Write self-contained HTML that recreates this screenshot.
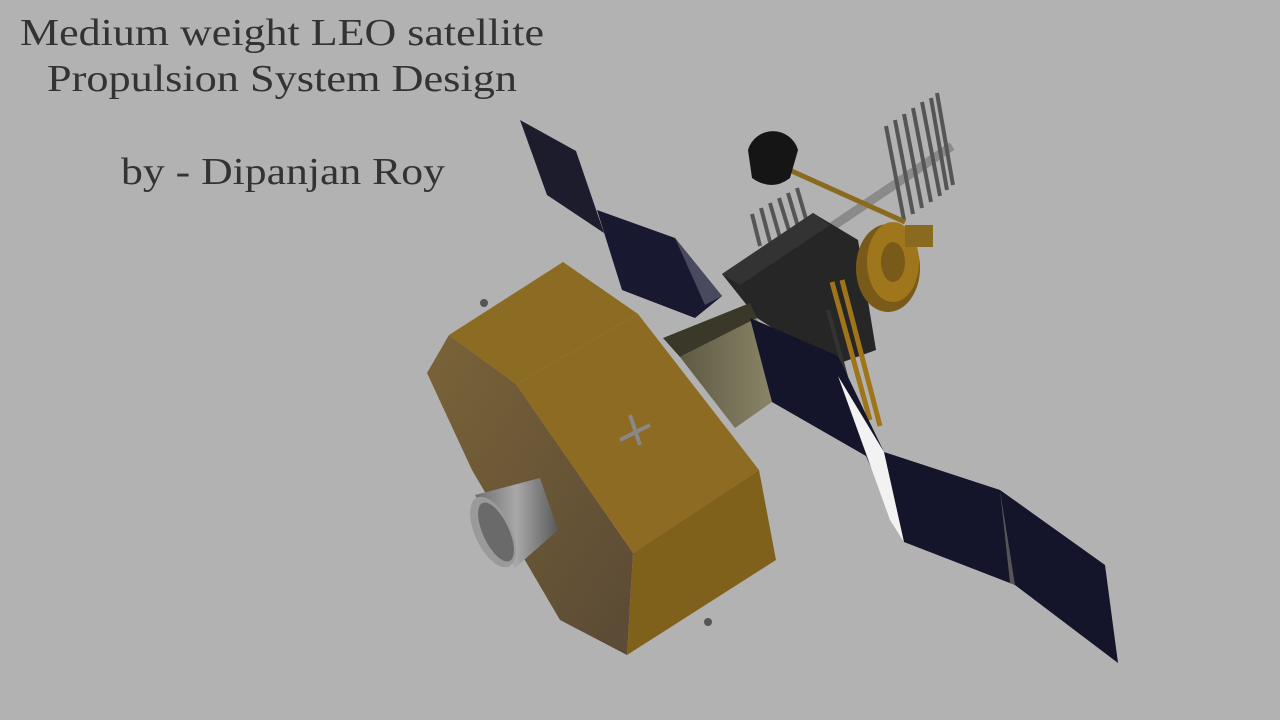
<!DOCTYPE html>
<html><head><meta charset="utf-8"><style>
html,body{margin:0;padding:0;background:#b2b2b2;}
svg{display:block}
text{font-family:"Liberation Serif",serif;fill:#333;}
</style></head><body>
<svg width="1280" height="720" viewBox="0 0 1280 720">
<defs>
<linearGradient id="back" x1="0" y1="0" x2="1" y2="1"><stop offset="0" stop-color="#7a6338"/><stop offset="1" stop-color="#5a4a35"/></linearGradient>
<linearGradient id="noz" x1="0" y1="0" x2="1" y2="0"><stop offset="0" stop-color="#6e6e6e"/><stop offset="0.5" stop-color="#a8a8a8"/><stop offset="1" stop-color="#5a5a5a"/></linearGradient>
<linearGradient id="conn" x1="0" y1="0" x2="1" y2="0"><stop offset="0" stop-color="#5e5a42"/><stop offset="1" stop-color="#8a8468"/></linearGradient>
</defs>
<rect width="1280" height="720" fill="#b2b2b2"/>
<text x="282" y="45" font-size="38" text-anchor="middle" textLength="524" lengthAdjust="spacingAndGlyphs">Medium weight LEO satellite</text>
<text x="282" y="91" font-size="38" text-anchor="middle" textLength="470" lengthAdjust="spacingAndGlyphs">Propulsion System Design</text>
<text x="283" y="184" font-size="38" text-anchor="middle" textLength="324" lengthAdjust="spacingAndGlyphs">by - Dipanjan Roy</text>

<g>
<polygon points="520,120 576,151 604,233 547,195" fill="#1c1c2c"/>
<polygon points="597,210 675,238 722,296 695,318 622,290" fill="#181830"/>
<polygon points="675,238 722,296 705,305" fill="#4a4a5e"/>
</g>

<g stroke="#555" stroke-width="4">
<line x1="830" y1="228" x2="952" y2="146" stroke="#8a8a8a" stroke-width="9"/>
<line x1="886" y1="126" x2="904" y2="220"/><line x1="895" y1="120" x2="913" y2="214"/>
<line x1="904" y1="114" x2="922" y2="208"/><line x1="913" y1="108" x2="931" y2="202"/>
<line x1="922" y1="102" x2="940" y2="196"/><line x1="931" y1="98" x2="947" y2="190"/>
<line x1="937" y1="93" x2="953" y2="185"/>
<line x1="752" y1="214" x2="760" y2="246"/><line x1="761" y1="208" x2="770" y2="242"/>
<line x1="770" y1="203" x2="780" y2="238"/><line x1="779" y1="198" x2="790" y2="234"/>
<line x1="788" y1="193" x2="799" y2="230"/><line x1="797" y1="188" x2="808" y2="226"/>
</g>

<g>
<line x1="785" y1="168" x2="905" y2="222" stroke="#8a6a1e" stroke-width="5"/>
<path d="M748,150 A26,26 0 0 1 798,150 L790,178 Q772,192 752,178 Z" fill="#151515"/>
</g>

<g>
<polygon points="722,274 813,213 858,240 876,350 832,366 757,318" fill="#262626"/>
<polygon points="722,274 813,213 830,225 740,285" fill="#333"/>
</g>

<g>
<ellipse cx="888" cy="268" rx="32" ry="44" fill="#7a5a18"/>
<ellipse cx="893" cy="262" rx="26" ry="40" fill="#a0761c"/>
<ellipse cx="893" cy="262" rx="12" ry="20" fill="#7a5a18"/>
<rect x="905" y="225" width="28" height="22" fill="#8a6a1e"/>
</g>

<g stroke="#a07418" stroke-width="5">
<line x1="832" y1="282" x2="870" y2="420"/><line x1="842" y1="280" x2="880" y2="426"/>
<line x1="828" y1="310" x2="855" y2="410" stroke="#333" stroke-width="4"/>
</g>

<g>
<polygon points="663,338 750,303 757,318 680,357" fill="#3a3828"/>
<polygon points="680,357 757,318 772,402 735,428" fill="url(#conn)"/>
</g>

<g>
<polygon points="750,318 838,356 884,452 1000,490 1105,565 1118,663 1015,585 904,542 866,456 772,402" fill="#14142a"/>
<polygon points="838,376 884,452 904,542 890,520" fill="#f2f2f2"/>
<polygon points="1000,490 1015,585 1010,583" fill="#555"/>
</g>

<g>
<polygon points="427,373 449,335 516,384 633,553 627,655 560,620 472,470" fill="url(#back)"/>
<polygon points="449,335 563,262 638,314 516,384" fill="#8c6b22"/>
<polygon points="516,384 638,314 759,470 633,553" fill="#8e6b22"/>
<polygon points="633,553 759,470 776,560 627,655" fill="#80611c"/>
<g stroke="#888" stroke-width="4"><line x1="620" y1="440" x2="650" y2="425"/><line x1="630" y1="415" x2="640" y2="445"/></g>
</g>

<g>
<polygon points="475,495 540,478 558,530 515,568" fill="url(#noz)"/>
<ellipse cx="493" cy="532" rx="18" ry="38" transform="rotate(-25 493 532)" fill="#9a9a9a"/>
<ellipse cx="496" cy="532" rx="13" ry="32" transform="rotate(-25 496 532)" fill="#6a6a6a"/>
</g>
<g fill="#555">
<circle cx="484" cy="303" r="4"/><circle cx="708" cy="622" r="4"/>
</g>
</svg>
</body></html>
